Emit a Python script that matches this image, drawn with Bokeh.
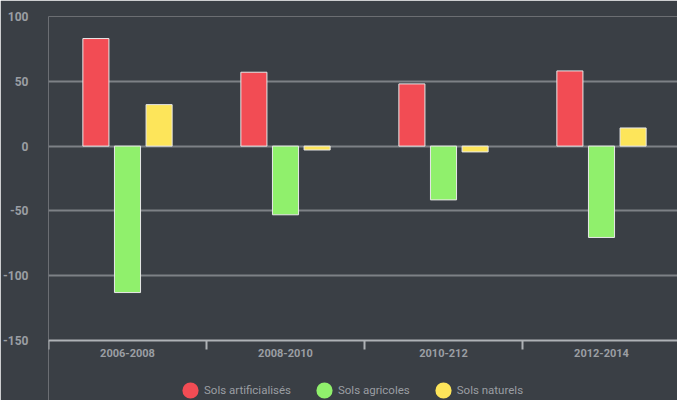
from bokeh.plotting import figure
from bokeh.models import ColumnDataSource, FixedTicker, Range1d, Legend, LegendItem, LinearAxis
from bokeh.transform import dodge
from bokeh.embed import file_html
from bokeh.resources import INLINE

periods = ["2006-2008", "2008-2010", "2010-212", "2012-2014"]
artificialises = [83, 57, 48, 58]
agricoles = [-113, -53, -41.5, -70.5]
naturels = [32, -3, -4.5, 14]
series_names = ["Sols artificialisés", "Sols agricoles", "Sols naturels"]
colors = ["#f24c54", "#90f06c", "#fde55a"]
y_ticks = [100, 50, 0, -50, -100, -150]
y_tick_labels = ["100", "50", "0", "-50", "-100", "-150"]

BG = "#3a3f45"
TXT = "#9a9ea3"
FONT = "Roboto"

xs = [i + 0.5 for i in range(len(periods))]
src = ColumnDataSource(dict(x=xs, a=artificialises, g=agricoles, n=naturels))

# frame spans from y=100 down to the page bottom; the category axis sits at -150
p = figure(frame_width=630, frame_height=384, output_backend="svg", toolbar_location=None,
           x_range=Range1d(0, 4 * 630 / 632), y_range=Range1d(100 - 384 * 250 / 324, 100),
           x_axis_location=None,
           background_fill_color=BG, border_fill_color=BG,
           min_border_left=39, min_border_top=16, min_border_right=0, min_border_bottom=0,
           outline_line_color=None)

renderers = []
for col, off, c in zip(["a", "g", "n"], [-0.2, 0.0, 0.2], colors):
    r = p.vbar(x=dodge("x", off, range=p.x_range), top=col, bottom=0, width=0.165,
               source=src, fill_color=c, line_color="#e8e8e8", line_width=1)
    renderers.append(r)

legend_renderers = []
for c in colors:
    lr = p.scatter(x=[-10], y=[-1000], marker="circle", size=8, fill_color=c,
                   line_color=c, line_width=9)
    legend_renderers.append(lr)

# category axis fixed at y = -150
xaxis = LinearAxis(fixed_location=-150,
                   ticker=FixedTicker(ticks=xs, minor_ticks=[0, 1, 2, 3, 4]))
xaxis.major_label_overrides = {x: lab for x, lab in zip(xs, periods)}
xaxis.major_tick_line_color = None
xaxis.major_tick_out = 0
xaxis.major_tick_in = 0
xaxis.minor_tick_out = 9
xaxis.minor_tick_in = 0
xaxis.minor_tick_line_color = "#aeb2b6"
xaxis.minor_tick_line_width = 2
xaxis.axis_line_color = "#aeb2b6"
xaxis.axis_line_width = 2
xaxis.major_label_text_color = TXT
xaxis.major_label_text_font = FONT
xaxis.major_label_text_font_size = "11px"
xaxis.major_label_text_font_style = "bold"
xaxis.major_label_standoff = -1
p.add_layout(xaxis, "below")

p.yaxis.ticker = FixedTicker(ticks=y_ticks)
p.yaxis.major_label_overrides = {t: lab for t, lab in zip(y_ticks, y_tick_labels)}
p.yaxis.axis_line_color = None
p.yaxis.major_tick_line_color = None
p.yaxis.minor_tick_line_color = None
p.yaxis.major_label_text_color = TXT
p.yaxis.major_label_text_font = FONT
p.yaxis.major_label_text_font_size = "12px"
p.yaxis.major_label_text_font_style = "bold"
p.yaxis.major_label_standoff = 14

p.xgrid.grid_line_color = None
p.ygrid.ticker = FixedTicker(ticks=[100, 50, 0, -50, -100])
p.ygrid.grid_line_color = "#7d8186"
p.ygrid.grid_line_width = 2

legend = Legend(items=[LegendItem(label=n, renderers=[r]) for n, r in zip(series_names, legend_renderers)],
                orientation="horizontal", location=(133, 1),
                background_fill_alpha=0, border_line_color=None,
                label_text_color=TXT, label_text_font=FONT, label_text_font_size="11.5px",
                glyph_width=18, glyph_height=18, spacing=24, padding=0, margin=0,
                label_standoff=5, label_height=18)
p.add_layout(legend, "center")

open("out.html", "w").write(file_html(p, INLINE))
